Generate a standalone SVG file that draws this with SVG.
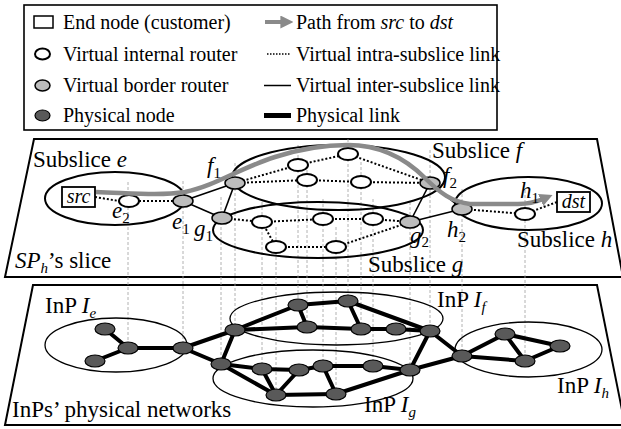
<svg xmlns="http://www.w3.org/2000/svg" width="621" height="429" viewBox="0 0 621 429" font-family="'Liberation Serif', 'DejaVu Serif', 'Times New Roman', serif">
<defs>
<style>
text{font-family:'Liberation Serif','DejaVu Serif','Times New Roman',serif;fill:#000}
.lg{font-size:20px}
.lb{font-size:23px}
.it{font-style:italic}
.sub{font-size:15px}
.plane{fill:#fff;stroke:#000;stroke-width:2}
.box{fill:#fff;stroke:#000;stroke-width:1.6}
.ss{fill:none;stroke:#000;stroke-width:2}
.inp{fill:none;stroke:#000;stroke-width:1.3}
.vl{stroke:#a0a0a0;stroke-width:0.8;stroke-dasharray:3,2;fill:none}
.intra{stroke:#000;stroke-width:2;stroke-dasharray:2,2;fill:none}
.inter{stroke:#000;stroke-width:1.6;fill:none}
.phy{stroke:#000;stroke-width:4;fill:none;stroke-linecap:round}
.vi{fill:#fff;stroke:#000;stroke-width:2}
.vb{fill:#bcbcbc;stroke:#000;stroke-width:1.5}
.pn{fill:#595959;stroke:#000;stroke-width:1.2}
.gp{fill:none;stroke:#8a8a8a;stroke-width:4.5}
</style>
<marker id="ah" viewBox="0 0 10 10" refX="2" refY="5" markerWidth="13" markerHeight="13" markerUnits="userSpaceOnUse" orient="auto">
<path d="M0,0 L10,5 L0,10 z" fill="#8a8a8a"/>
</marker>
</defs>

<!-- Legend -->
<g id="legend">
<rect class="box" x="24" y="5" width="473" height="125"/>
<rect x="34" y="16" width="19" height="12" fill="#fff" stroke="#000" stroke-width="1.5"/>
<text class="lg" x="63" y="29">End node (customer)</text>
<ellipse class="vi" cx="42.5" cy="54" rx="7.5" ry="5.5" stroke-width="1.6"/>
<text class="lg" x="63" y="61">Virtual internal router</text>
<ellipse class="vb" cx="42.5" cy="85.5" rx="7.5" ry="5.5"/>
<text class="lg" x="63" y="92">Virtual border router</text>
<ellipse class="pn" cx="42.5" cy="115.5" rx="7.5" ry="5.5"/>
<text class="lg" x="63" y="122">Physical node</text>
<line x1="265" y1="22" x2="283" y2="22" stroke="#8a8a8a" stroke-width="4" marker-end="url(#ah)"/>
<text class="lg" x="296" y="29">Path from <tspan class="it">src</tspan> to <tspan class="it">dst</tspan></text>
<line x1="267" y1="54" x2="291" y2="54" stroke="#000" stroke-width="1.5" stroke-dasharray="1.5,1.5"/>
<text class="lg" x="296" y="61">Virtual intra-subslice link</text>
<line x1="264" y1="85.5" x2="291" y2="85.5" stroke="#000" stroke-width="1.5"/>
<text class="lg" x="296" y="92">Virtual inter-subslice link</text>
<line x1="264" y1="115.5" x2="291" y2="115.5" stroke="#000" stroke-width="5"/>
<text class="lg" x="296" y="122">Physical link</text>
</g>

<!-- Planes -->
<g id="slice-plane">
<polygon class="plane" points="34,139 597,139 623,277 5,277"/>
</g>
<g id="physical-plane">
<polygon class="plane" points="33,285 597,285 625,425 5,425"/>
</g>

<!-- Vertical mapping lines -->
<g id="mapping-lines">
<line class="vl" x1="128" y1="182" x2="128" y2="348"/>
<line class="vl" x1="183" y1="181" x2="183" y2="348"/>
<line class="vl" x1="235" y1="163" x2="235" y2="330"/>
<line class="vl" x1="221" y1="197" x2="221" y2="364"/>
<line class="vl" x1="298" y1="145" x2="298" y2="305"/>
<line class="vl" x1="348" y1="139" x2="348" y2="301"/>
<line class="vl" x1="307" y1="160" x2="307" y2="327"/>
<line class="vl" x1="361" y1="162" x2="361" y2="329"/>
<line class="vl" x1="430" y1="150" x2="430" y2="331"/>
<line class="vl" x1="262" y1="202" x2="262" y2="369"/>
<line class="vl" x1="323" y1="199" x2="323" y2="366"/>
<line class="vl" x1="373" y1="199" x2="373" y2="366"/>
<line class="vl" x1="276" y1="227" x2="276" y2="395"/>
<line class="vl" x1="336" y1="227" x2="336" y2="394"/>
<line class="vl" x1="410" y1="202" x2="410" y2="370"/>
<line class="vl" x1="462" y1="189" x2="462" y2="356"/>
<line class="vl" x1="525" y1="190" x2="525" y2="361"/>
</g>

<!-- Subslice / InP outlines -->
<g id="subslice-e"><ellipse class="ss" cx="115" cy="198.5" rx="70" ry="26.5"/></g>
<g id="subslice-f"><ellipse class="ss" cx="338.5" cy="177.5" rx="106.5" ry="32.5"/></g>
<g id="subslice-g"><ellipse class="ss" cx="318" cy="230" rx="105" ry="28"/></g>
<g id="subslice-h"><ellipse class="ss" cx="528.5" cy="203.5" rx="73.5" ry="26.5"/></g>
<g id="inp-e"><ellipse class="inp" cx="116" cy="345" rx="71" ry="27"/></g>
<g id="inp-f"><ellipse class="inp" cx="336.5" cy="318.5" rx="106.5" ry="26.5"/></g>
<g id="inp-g"><ellipse class="inp" cx="313" cy="378.5" rx="100" ry="28.5"/></g>
<g id="inp-h"><ellipse class="inp" cx="528.5" cy="349.5" rx="73.5" ry="27.5"/></g>

<!-- Connectors -->
<g id="connectors">
<line class="intra" x1="95" y1="197" x2="119" y2="201"/>
<line class="intra" x1="139" y1="201" x2="173" y2="201"/>
<line class="intra" x1="235" y1="183" x2="298" y2="165"/>
<line class="intra" x1="298" y1="165" x2="348" y2="154"/>
<line class="intra" x1="348" y1="154" x2="430" y2="183"/>
<line class="intra" x1="235" y1="183" x2="307" y2="180"/>
<line class="intra" x1="307" y1="180" x2="361" y2="182"/>
<line class="intra" x1="361" y1="182" x2="430" y2="183"/>
<line class="intra" x1="222" y1="218" x2="262" y2="222"/>
<line class="intra" x1="262" y1="222" x2="323" y2="219"/>
<line class="intra" x1="323" y1="219" x2="373" y2="219"/>
<line class="intra" x1="373" y1="219" x2="410" y2="222"/>
<line class="intra" x1="262" y1="222" x2="276" y2="247"/>
<line class="intra" x1="276" y1="247" x2="336" y2="247"/>
<line class="intra" x1="336" y1="247" x2="410" y2="222"/>
<line class="intra" x1="462" y1="209" x2="525" y2="214"/>
<line class="intra" x1="525" y1="214" x2="557" y2="202"/>
<line class="inter" x1="183" y1="201" x2="235" y2="183"/>
<line class="inter" x1="183" y1="201" x2="222" y2="218"/>
<line class="inter" x1="222" y1="218" x2="235" y2="183"/>
<line class="inter" x1="430" y1="183" x2="410" y2="222"/>
<line class="inter" x1="430" y1="183" x2="462" y2="209"/>
<line class="inter" x1="410" y1="222" x2="462" y2="209"/>
<line class="phy" x1="105" y1="329" x2="128" y2="348"/>
<line class="phy" x1="95" y1="361" x2="128" y2="348"/>
<line class="phy" x1="128" y1="348" x2="183" y2="348"/>
<line class="phy" x1="183" y1="348" x2="235" y2="330"/>
<line class="phy" x1="183" y1="348" x2="221" y2="364"/>
<line class="phy" x1="235" y1="330" x2="221" y2="364"/>
<line class="phy" x1="235" y1="330" x2="298" y2="305"/>
<line class="phy" x1="235" y1="330" x2="307" y2="327"/>
<line class="phy" x1="298" y1="305" x2="307" y2="327"/>
<line class="phy" x1="298" y1="305" x2="348" y2="301"/>
<line class="phy" x1="348" y1="301" x2="361" y2="329"/>
<line class="phy" x1="348" y1="301" x2="430" y2="331"/>
<line class="phy" x1="307" y1="327" x2="361" y2="329"/>
<line class="phy" x1="361" y1="329" x2="396" y2="329"/>
<line class="phy" x1="396" y1="329" x2="430" y2="331"/>
<line class="phy" x1="221" y1="364" x2="262" y2="369"/>
<line class="phy" x1="221" y1="364" x2="276" y2="395"/>
<line class="phy" x1="262" y1="369" x2="276" y2="395"/>
<line class="phy" x1="262" y1="369" x2="299" y2="370"/>
<line class="phy" x1="276" y1="395" x2="299" y2="370"/>
<line class="phy" x1="299" y1="370" x2="323" y2="366"/>
<line class="phy" x1="323" y1="366" x2="373" y2="366"/>
<line class="phy" x1="373" y1="366" x2="410" y2="370"/>
<line class="phy" x1="323" y1="366" x2="336" y2="394"/>
<line class="phy" x1="276" y1="395" x2="336" y2="394"/>
<line class="phy" x1="336" y1="394" x2="410" y2="370"/>
<line class="phy" x1="410" y1="370" x2="430" y2="331"/>
<line class="phy" x1="410" y1="370" x2="462" y2="356"/>
<line class="phy" x1="430" y1="331" x2="462" y2="356"/>
<line class="phy" x1="462" y1="356" x2="505" y2="334"/>
<line class="phy" x1="462" y1="356" x2="525" y2="361"/>
<line class="phy" x1="505" y1="334" x2="525" y2="361"/>
<line class="phy" x1="505" y1="334" x2="560" y2="346"/>
<line class="phy" x1="525" y1="361" x2="560" y2="346"/>
</g>

<!-- Virtual nodes -->
<g id="src"><rect x="62" y="187" width="33" height="20" fill="#fff" stroke="#000" stroke-width="1.8"/><text class="lg it" x="78.5" y="203" text-anchor="middle">src</text></g>
<g id="dst"><rect x="557" y="192" width="33" height="20" fill="#fff" stroke="#000" stroke-width="1.8"/><text class="lg it" x="573.5" y="208" text-anchor="middle">dst</text></g>
<g id="e2"><ellipse class="vi" cx="129" cy="201" rx="10" ry="6"/></g>
<g id="e1"><ellipse class="vb" cx="183" cy="201" rx="10" ry="6"/></g>
<g id="f1"><ellipse class="vb" cx="235" cy="183" rx="10" ry="6"/></g>
<g id="fa"><ellipse class="vi" cx="298" cy="165" rx="10" ry="6"/></g>
<g id="fb"><ellipse class="vi" cx="348" cy="154" rx="10" ry="6"/></g>
<g id="fc"><ellipse class="vi" cx="307" cy="180" rx="10" ry="6"/></g>
<g id="fd"><ellipse class="vi" cx="361" cy="182" rx="10" ry="6"/></g>
<g id="f2"><ellipse class="vb" cx="430" cy="183" rx="10" ry="6"/></g>
<g id="g1"><ellipse class="vb" cx="222" cy="218" rx="10" ry="6"/></g>
<g id="ga"><ellipse class="vi" cx="262" cy="222" rx="10" ry="6"/></g>
<g id="gb"><ellipse class="vi" cx="323" cy="219" rx="10" ry="6"/></g>
<g id="gc"><ellipse class="vi" cx="373" cy="219" rx="10" ry="6"/></g>
<g id="gd"><ellipse class="vi" cx="276" cy="247" rx="10" ry="6"/></g>
<g id="ge"><ellipse class="vi" cx="336" cy="247" rx="10" ry="6"/></g>
<g id="g2"><ellipse class="vb" cx="410" cy="222" rx="10" ry="6"/></g>
<g id="h2"><ellipse class="vb" cx="462" cy="209" rx="10" ry="6"/></g>
<g id="h1"><ellipse class="vi" cx="525" cy="214" rx="10" ry="6"/></g>

<!-- Physical nodes -->
<g id="pe1"><ellipse class="pn" cx="105" cy="329" rx="10" ry="6"/></g>
<g id="pe2"><ellipse class="pn" cx="95" cy="361" rx="10" ry="6"/></g>
<g id="pe3"><ellipse class="pn" cx="128" cy="348" rx="10" ry="6"/></g>
<g id="pe4"><ellipse class="pn" cx="183" cy="348" rx="10" ry="6"/></g>
<g id="pf1"><ellipse class="pn" cx="235" cy="330" rx="10" ry="6"/></g>
<g id="pf2"><ellipse class="pn" cx="298" cy="305" rx="10" ry="6"/></g>
<g id="pf3"><ellipse class="pn" cx="348" cy="301" rx="10" ry="6"/></g>
<g id="pf4"><ellipse class="pn" cx="307" cy="327" rx="10" ry="6"/></g>
<g id="pf5"><ellipse class="pn" cx="361" cy="329" rx="10" ry="6"/></g>
<g id="pf6"><ellipse class="pn" cx="396" cy="329" rx="10" ry="6"/></g>
<g id="pf7"><ellipse class="pn" cx="430" cy="331" rx="10" ry="6"/></g>
<g id="pg1"><ellipse class="pn" cx="221" cy="364" rx="10" ry="6"/></g>
<g id="pg2"><ellipse class="pn" cx="262" cy="369" rx="10" ry="6"/></g>
<g id="pg3"><ellipse class="pn" cx="299" cy="370" rx="10" ry="6"/></g>
<g id="pg4"><ellipse class="pn" cx="323" cy="366" rx="10" ry="6"/></g>
<g id="pg5"><ellipse class="pn" cx="373" cy="366" rx="10" ry="6"/></g>
<g id="pg6"><ellipse class="pn" cx="410" cy="370" rx="10" ry="6"/></g>
<g id="pg7"><ellipse class="pn" cx="276" cy="395" rx="10" ry="6"/></g>
<g id="pg8"><ellipse class="pn" cx="336" cy="394" rx="10" ry="6"/></g>
<g id="ph1"><ellipse class="pn" cx="462" cy="356" rx="10" ry="6"/></g>
<g id="ph2"><ellipse class="pn" cx="505" cy="334" rx="10" ry="6"/></g>
<g id="ph3"><ellipse class="pn" cx="525" cy="361" rx="10" ry="6"/></g>
<g id="ph4"><ellipse class="pn" cx="560" cy="346" rx="10" ry="6"/></g>

<!-- Path from src to dst -->
<g id="path-src-dst">
<path class="gp" d="M96,192 C130,193 160,196 185,192 C215,186 240,168 275,157 C300,149 325,145 348,145 C380,145 405,158 425,178 C440,193 452,202 470,204 L518,204 C528,204 536,202 543,199" marker-end="url(#ah)"/>
</g>

<!-- Labels -->
<g id="labels">
<text class="lb" x="33" y="167">Subslice <tspan class="it">e</tspan></text>
<text class="lb" x="432" y="158">Subslice <tspan class="it">f</tspan></text>
<text class="lb" x="368" y="272">Subslice <tspan class="it">g</tspan></text>
<text class="lb" x="517" y="247">Subslice <tspan class="it">h</tspan></text>
<text class="lb" x="15" y="268"><tspan class="it">SP</tspan><tspan class="it sub" dy="5">h</tspan><tspan dy="-5">’s slice</tspan></text>
<text class="lb" x="12" y="417">InPs’ physical networks</text>
<text class="lb" x="45" y="313">InP <tspan class="it">I</tspan><tspan class="it sub" dy="5">e</tspan></text>
<text class="lb" x="437" y="307">InP <tspan class="it">I</tspan><tspan class="it sub" dy="5">f</tspan></text>
<text class="lb" x="364" y="412">InP <tspan class="it">I</tspan><tspan class="it sub" dy="5">g</tspan></text>
<text class="lb" x="557" y="393">InP <tspan class="it">I</tspan><tspan class="it sub" dy="5">h</tspan></text>
<text class="lb" x="207" y="173"><tspan class="it">f</tspan><tspan class="sub" dy="5">1</tspan></text>
<text class="lb" x="112" y="218"><tspan class="it">e</tspan><tspan class="sub" dy="5">2</tspan></text>
<text class="lb" x="172" y="229"><tspan class="it">e</tspan><tspan class="sub" dy="5">1</tspan></text>
<text class="lb" x="194" y="236"><tspan class="it">g</tspan><tspan class="sub" dy="5">1</tspan></text>
<text class="lb" x="410" y="243"><tspan class="it">g</tspan><tspan class="sub" dy="4">2</tspan></text>
<text class="lb" x="443" y="183"><tspan class="it">f</tspan><tspan class="sub" dy="5">2</tspan></text>
<text class="lb" x="447" y="237"><tspan class="it">h</tspan><tspan class="sub" dy="5">2</tspan></text>
<text class="lb" x="520" y="198"><tspan class="it">h</tspan><tspan class="sub" dy="5">1</tspan></text>
</g>
</svg>
